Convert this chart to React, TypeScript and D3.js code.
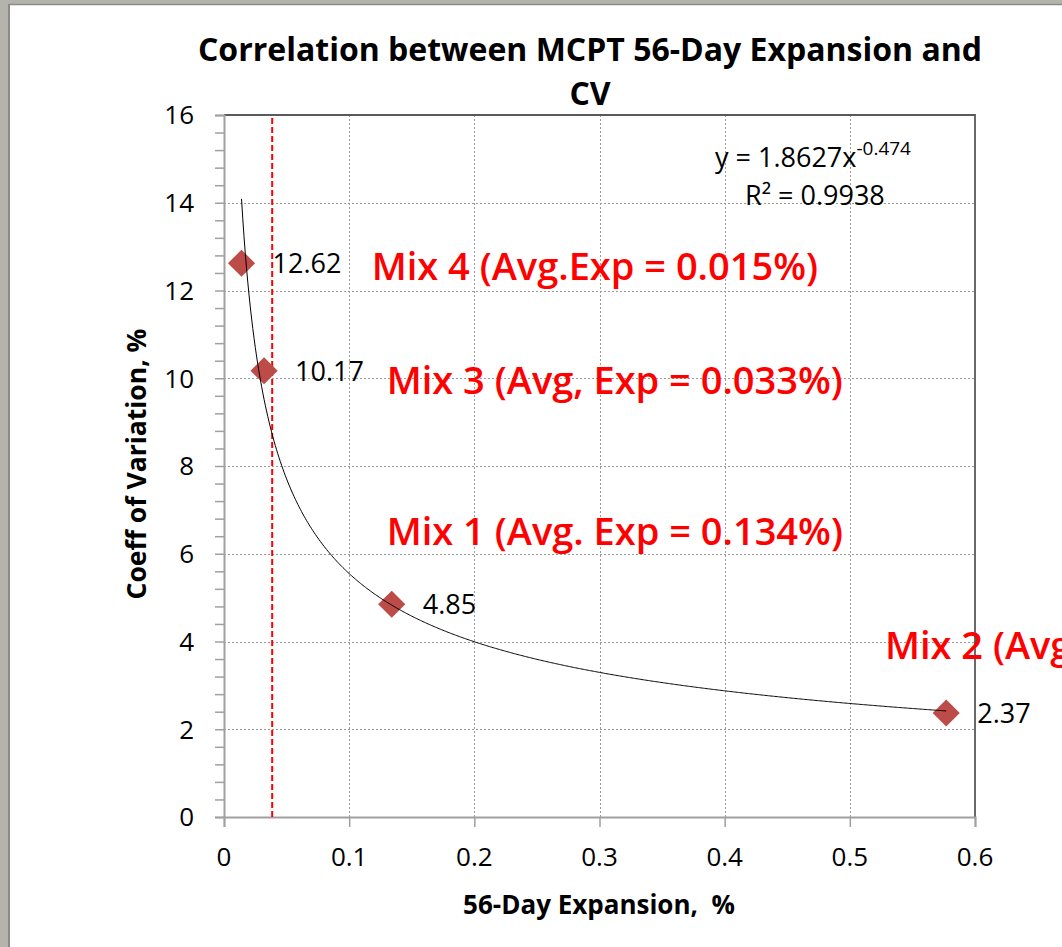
import React, { useEffect, useRef } from "react";
import * as d3 from "d3";

const mixes = ["Mix 4", "Mix 3", "Mix 1", "Mix 2"];
const expansion = [0.014, 0.032, 0.134, 0.577];
const coeffVariation = [12.62, 10.17, 4.85, 2.37];
const mixNotes = [
  "Mix 4 (Avg.Exp = 0.015%)",
  "Mix 3 (Avg, Exp = 0.033%)",
  "Mix 1 (Avg. Exp = 0.134%)",
  "Mix 2 (Avg. Exp = 0.577%)",
];
// where each red note sits, in data units (x, y of baseline)
const notePos = [
  [0.118, 12.25],
  [0.13, 9.65],
  [0.13, 6.2],
  [0.528, 3.6],
];
const xTicks = [0, 0.1, 0.2, 0.3, 0.4, 0.5, 0.6];
const yTicks = [0, 2, 4, 6, 8, 10, 12, 14, 16];
const limitExpansion = 0.0385;
// power trendline shown on the chart: y = 1.8627 x^-0.474
const trendA = 1.8627;
const trendB = -0.474;

const W = 1062;
const H = 947;
const plot = { left: 224, right: 975, top: 115, bottom: 817 };
const FONT = "'Open Sans', sans-serif";

export default function App() {
  const ref = useRef<SVGSVGElement>(null);

  useEffect(() => {
    const svg = d3.select(ref.current);
    svg.selectAll("*").remove();

    const x = d3.scaleLinear().domain([0, 0.6]).range([plot.left, plot.right]);
    const y = d3.scaleLinear().domain([0, 16]).range([plot.bottom, plot.top]);

    // window frame
    svg.append("rect").attr("width", W).attr("height", H).attr("fill", "#b4b4ac");
    svg.append("rect").attr("x", 10).attr("y", 5).attr("width", W - 10).attr("height", H - 5).attr("fill", "#fff");
    svg.append("line").attr("x1", 9).attr("x2", 9).attr("y1", 4).attr("y2", H).attr("stroke", "#8a8a8a").attr("stroke-width", 2);
    svg.append("line").attr("x1", 9).attr("x2", W).attr("y1", 4.5).attr("y2", 4.5).attr("stroke", "#8a8a8a").attr("stroke-width", 1.5);

    // grid
    const grid = svg.append("g").attr("stroke", "#9a9a9a").attr("stroke-dasharray", "2,2").attr("stroke-width", 1);
    grid
      .selectAll("line.h")
      .data(yTicks.slice(1, -1))
      .join("line")
      .attr("x1", plot.left)
      .attr("x2", plot.right)
      .attr("y1", (d) => Math.round(y(d)) + 0.5)
      .attr("y2", (d) => Math.round(y(d)) + 0.5);
    grid
      .selectAll("line.v")
      .data(xTicks.slice(1, -1))
      .join("line")
      .attr("x1", (d) => Math.round(x(d)) + 0.5)
      .attr("x2", (d) => Math.round(x(d)) + 0.5)
      .attr("y1", plot.top)
      .attr("y2", plot.bottom);

    // plot border top and right
    svg.append("path")
      .attr("d", `M${plot.left},${plot.top}H${plot.right}V${plot.bottom}`)
      .attr("fill", "none")
      .attr("stroke", "#5a5a5a")
      .attr("stroke-width", 1.8);

    // y axis
    const yAxis = svg.append("g").attr("transform", `translate(${plot.left},0)`);
    yAxis.call(d3.axisLeft(y).tickValues(d3.range(0, 16.01, 0.4)).tickSize(9).tickFormat(() => ""));
    yAxis.call((g) => g.selectAll("line").attr("stroke", "#a0a0a0").attr("stroke-width", 1.5));
    yAxis.call((g) => g.select(".domain").attr("stroke", "#a0a0a0").attr("stroke-width", 2));
    svg.append("g")
      .selectAll("text")
      .data(yTicks)
      .join("text")
      .attr("x", 194)
      .attr("y", (d) => y(d))
      .attr("dy", "0.36em")
      .attr("text-anchor", "end")
      .attr("font-family", FONT)
      .attr("font-size", 26)
      .attr("fill", "#000")
      .text((d) => d);

    // x axis
    const xAxis = svg.append("g").attr("transform", `translate(0,${plot.bottom})`);
    xAxis.call(d3.axisBottom(x).tickValues(d3.range(0, 0.6001, 0.02)).tickSize(7).tickFormat(() => ""));
    xAxis.call(d3.axisBottom(x).tickValues(xTicks).tickSize(10).tickFormat(() => ""));
    xAxis.call((g) => g.selectAll("line").attr("stroke", "#a0a0a0").attr("stroke-width", 1.5));
    xAxis.call((g) => g.selectAll(".domain").attr("stroke", "#a0a0a0").attr("stroke-width", 2));
    svg.append("g")
      .selectAll("text")
      .data(xTicks)
      .join("text")
      .attr("x", (d) => x(d))
      .attr("y", 866)
      .attr("text-anchor", "middle")
      .attr("font-family", FONT)
      .attr("font-size", 26)
      .attr("fill", "#000")
      .text((d) => d);

    // red limit line
    svg.append("line")
      .attr("x1", x(limitExpansion))
      .attr("x2", x(limitExpansion))
      .attr("y1", plot.top + 3)
      .attr("y2", plot.bottom + 3)
      .attr("stroke", "#ff0000")
      .attr("stroke-width", 2)
      .attr("stroke-dasharray", "6,3");

    // markers
    const points = expansion.map((e, i) => ({ x: e, y: coeffVariation[i], name: mixes[i] }));
    svg.append("g")
      .selectAll("path")
      .data(points)
      .join("path")
      .attr("d", d3.symbol(d3.symbolDiamond2, 470)())
      .attr("transform", (d) => `translate(${x(d.x)},${y(d.y)})`)
      .attr("fill", "#bd4b48");

    // trendline
    const xs = d3.range(expansion[0], expansion[3], 0.001).concat([expansion[3]]);
    svg.append("path")
      .datum(xs)
      .attr("d", d3.line<number>().x((d) => x(d)).y((d) => y(trendA * Math.pow(d, trendB))))
      .attr("fill", "none")
      .attr("stroke", "#000")
      .attr("stroke-width", 1);

    // data labels
    svg.append("g")
      .selectAll("text")
      .data(points)
      .join("text")
      .attr("x", (d) => x(d.x) + 31)
      .attr("y", (d) => y(d.y) + 10)
      .attr("font-family", FONT)
      .attr("font-size", 27)
      .attr("fill", "#000")
      .text((d) => d.y.toFixed(2));

    // red notes
    svg.append("g")
      .selectAll("text")
      .data(mixNotes)
      .join("text")
      .attr("x", (_, i) => x(notePos[i][0]))
      .attr("y", (_, i) => y(notePos[i][1]))
      .attr("font-family", FONT)
      .attr("font-size", 38)
      .attr("font-weight", 600)
      .attr("fill", "#ff0000")
      .text((d) => d);

    // equation
    const eq = svg.append("text").attr("font-family", FONT).attr("font-size", 27).attr("fill", "#000");
    eq.append("tspan").attr("x", 715).attr("y", 167).text("y = 1.8627x");
    eq.append("tspan").attr("dy", -12).attr("font-size", 19).text("-0.474");
    svg.append("text")
      .attr("x", 745)
      .attr("y", 205)
      .attr("font-family", FONT)
      .attr("font-size", 27)
      .attr("fill", "#000")
      .text("R² = 0.9938");

    // titles
    svg.append("text")
      .attr("x", 590)
      .attr("y", 61)
      .attr("text-anchor", "middle")
      .attr("font-family", FONT)
      .attr("font-size", 32)
      .attr("font-weight", 700)
      .text("Correlation between MCPT 56-Day Expansion and");
    svg.append("text")
      .attr("x", 590)
      .attr("y", 105)
      .attr("text-anchor", "middle")
      .attr("font-family", FONT)
      .attr("font-size", 32)
      .attr("font-weight", 700)
      .text("CV");
    svg.append("text")
      .attr("transform", `translate(146,${464}) rotate(-90)`)
      .attr("text-anchor", "middle")
      .attr("font-family", FONT)
      .attr("font-size", 26.5)
      .attr("font-weight", 700)
      .text("Coeff of Variation, %");
    svg.append("text")
      .attr("x", 599)
      .attr("y", 914)
      .attr("text-anchor", "middle")
      .attr("font-family", FONT)
      .attr("font-size", 26)
      .attr("font-weight", 700)
      .style("white-space", "pre")
      .text("56-Day Expansion,  %");
  }, []);

  return (
    <svg
      ref={ref}
      width={W}
      height={H}
      style={{ position: "absolute", left: 0, top: 0, display: "block" }}
    />
  );
}
